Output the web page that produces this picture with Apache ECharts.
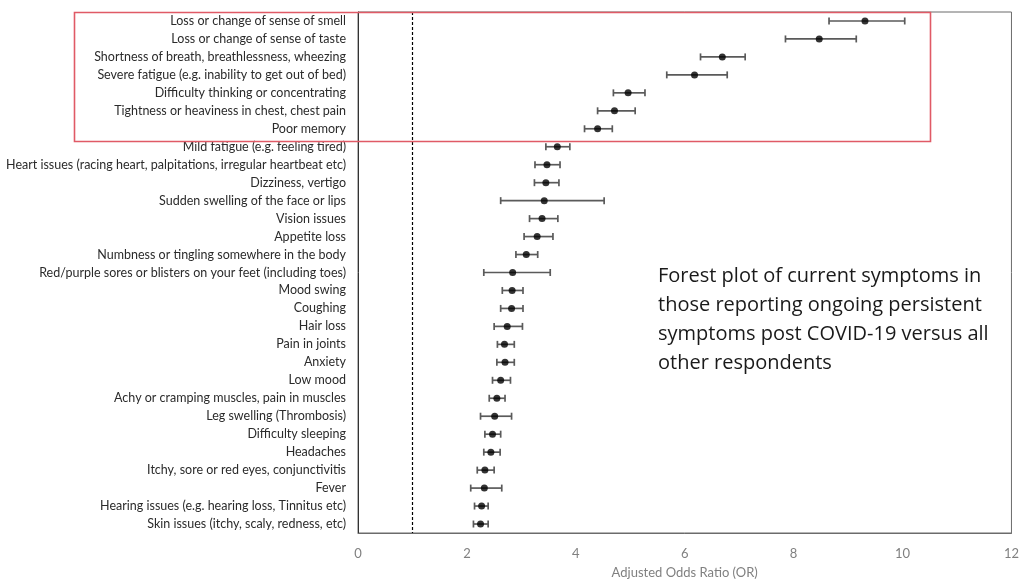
<!DOCTYPE html>
<html><head><meta charset="utf-8">
<script src="https://cdn.jsdelivr.net/npm/echarts@6/dist/echarts.min.js"></script>
<style>html,body{margin:0;padding:0;background:#fff}#c{width:1022px;height:584px}</style>
</head><body><div id="c"></div>
<script>
const categories = [
 "Loss or change of sense of smell",
 "Loss or change of sense of taste",
 "Shortness of breath, breathlessness, wheezing",
 "Severe fatigue (e.g. inability to get out of bed)",
 "Difficulty thinking or concentrating",
 "Tightness or heaviness in chest, chest pain",
 "Poor memory",
 "Mild fatigue (e.g. feeling tired)",
 "Heart issues (racing heart, palpitations, irregular heartbeat etc)",
 "Dizziness, vertigo",
 "Sudden swelling of the face or lips",
 "Vision issues",
 "Appetite loss",
 "Numbness or tingling somewhere in the body",
 "Red/purple sores or blisters on your feet (including toes)",
 "Mood swing",
 "Coughing",
 "Hair loss",
 "Pain in joints",
 "Anxiety",
 "Low mood",
 "Achy or cramping muscles, pain in muscles",
 "Leg swelling (Thrombosis)",
 "Difficulty sleeping",
 "Headaches",
 "Itchy, sore or red eyes, conjunctivitis",
 "Fever",
 "Hearing issues (e.g. hearing loss, Tinnitus etc)",
 "Skin issues (itchy, scaly, redness, etc)"
];
const oddsRatio = [9.31,8.47,6.69,6.18,4.96,4.71,4.40,3.66,3.47,3.45,3.42,3.38,3.29,3.09,2.84,2.83,2.82,2.74,2.69,2.70,2.62,2.55,2.51,2.47,2.44,2.33,2.32,2.27,2.25];
const ciLower = [8.65,7.85,6.29,5.67,4.69,4.40,4.16,3.45,3.25,3.24,2.62,3.15,3.05,2.90,2.31,2.65,2.62,2.50,2.56,2.55,2.47,2.41,2.25,2.33,2.31,2.19,2.07,2.14,2.12];
const ciUpper = [10.04,9.15,7.11,6.78,5.27,5.09,4.67,3.89,3.71,3.69,4.52,3.67,3.58,3.30,3.53,3.03,3.03,3.02,2.87,2.87,2.80,2.70,2.82,2.62,2.61,2.50,2.64,2.39,2.39];
const xTicks = [0,2,4,6,8,10,12];
const refLine = 1;
const noteText = "Forest plot of current symptoms in\nthose reporting ongoing persistent\nsymptoms post COVID-19 versus all\nother respondents";
const axisTitle = "Adjusted Odds Ratio (OR)";

const chart = echarts.init(document.getElementById('c'));
const errData = categories.map((c,i)=>[ciLower[i], ciUpper[i], i]);
const ptData = categories.map((c,i)=>[oddsRatio[i], i]);

chart.setOption({
  animation:false,
  textStyle:{fontFamily:'Lato'},
  grid:{left:358,right:6,top:12,bottom:46,show:true,borderColor:'#6b6b6b',borderWidth:1,containLabel:false},
  xAxis:{type:'value',min:xTicks[0],max:xTicks[xTicks.length-1],interval:2,
    name:axisTitle,nameLocation:'middle',nameGap:33,
    nameTextStyle:{color:'#808080',fontSize:13,fontFamily:'Lato'},
    axisLine:{show:true,lineStyle:{color:'#6b6b6b'}},axisTick:{show:false},
    splitLine:{show:false},
    axisLabel:{color:'#808080',fontSize:13,margin:14,fontFamily:'Lato'}},
  yAxis:{type:'category',data:categories,inverse:true,
    axisLine:{show:true,lineStyle:{color:'#333'}},axisTick:{show:false},
    axisLabel:{color:'#2b2b2b',fontSize:12.5,margin:12,fontFamily:'Lato'}},
  series:[
    {type:'custom',data:errData,encode:{x:[0,1],y:2},z:2,
     renderItem:function(params,api){
       const lo=api.coord([api.value(0),api.value(2)]);
       const hi=api.coord([api.value(1),api.value(2)]);
       const h=3.5;
       const st={stroke:'#5a5a5a',lineWidth:1.7};
       return {type:'group',children:[
         {type:'line',shape:{x1:lo[0],y1:lo[1],x2:hi[0],y2:hi[1]},style:st},
         {type:'line',shape:{x1:lo[0],y1:lo[1]-h,x2:lo[0],y2:lo[1]+h},style:st},
         {type:'line',shape:{x1:hi[0],y1:hi[1]-h,x2:hi[0],y2:hi[1]+h},style:st}
       ]};
     }},
    {type:'scatter',data:ptData,symbol:'circle',symbolSize:7,z:3,
     itemStyle:{color:'#000'},
     markLine:{silent:true,symbol:'none',label:{show:false},
       lineStyle:{color:'#000',type:[3,2],width:1.2},
       data:[{xAxis:refLine}]}}
  ],
  graphic:[
    {type:'rect',left:72,top:10,shape:{width:856,height:129},
     style:{fill:null,stroke:'#e05a66',lineWidth:1.6},z:10},
    {type:'text',left:658,top:262,
     style:{text:noteText,fill:'#1a1a1a',fontSize:20,lineHeight:29,fontFamily:'Open Sans'},z:10}
  ]
});
</script></body></html>
